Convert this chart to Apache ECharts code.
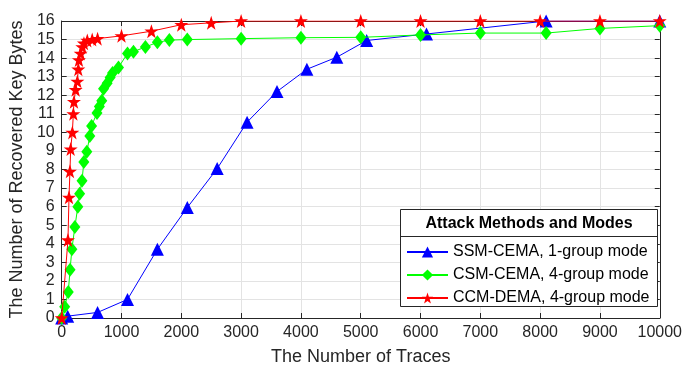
<!DOCTYPE html>
<html>
<head>
<meta charset="utf-8">
<script src="https://cdn.jsdelivr.net/npm/echarts@6/dist/echarts.min.js"></script>
<style>
  html, body { margin: 0; padding: 0; background: #fff; }
  #chart { width: 685px; height: 371px; }
</style>
</head>
<body>
<div id="chart"></div>
<script>
// traces vs recovered key bytes
const ssmX = [0, 100, 600, 1100, 1600, 2100, 2600, 3100, 3600, 4100, 4600, 5100, 6100, 8100, 10000];
const ssmY = [0, 0.1, 0.3, 1.0, 3.7, 5.95, 8.05, 10.55, 12.2, 13.4, 14.05, 14.95, 15.3, 16, 16];

const csmX = [0, 50, 110, 140, 170, 220, 270, 300, 340, 370, 420, 470, 500, 590, 630, 670, 700, 760, 810, 850, 950, 1100, 1200, 1400, 1600, 1800, 2100, 3000, 4000, 5000, 6000, 7000, 8100, 9000, 10000];
const csmY = [0, 0.6, 1.4, 2.6, 3.7, 4.9, 6.0, 6.7, 7.4, 8.4, 8.95, 9.8, 10.35, 11.05, 11.4, 11.7, 12.35, 12.65, 12.95, 13.2, 13.5, 14.25, 14.35, 14.6, 14.85, 14.97, 15.0, 15.05, 15.1, 15.12, 15.25, 15.35, 15.35, 15.6, 15.75];

const ccmX = [0, 105, 122, 138, 150, 178, 195, 205, 233, 262, 278, 288, 317, 345, 372, 428, 510, 600, 1000, 1500, 2000, 2500, 3000, 4000, 5000, 6000, 7000, 8000, 9000, 10000];
const ccmY = [0, 4.2, 6.5, 7.9, 9.1, 10.0, 11.0, 11.65, 12.3, 12.75, 13.4, 13.9, 14.25, 14.6, 14.8, 14.95, 15.0, 15.05, 15.2, 15.45, 15.8, 15.9, 16, 16, 16, 16, 16, 16, 16, 16];

const seriesNames = ["SSM-CEMA, 1-group mode", "CSM-CEMA, 4-group mode", "CCM-DEMA, 4-group mode"];
const legendTitle = "Attack Methods and Modes";

const starPath = "path://M50,0 L61.8,35.3 L98.1,35.3 L68.8,57.1 L79.4,92.7 L50,71 L20.6,92.7 L31.2,57.1 L1.9,35.3 L38.2,35.3 Z";
const axisColor = "#262626";
const font = "Liberation Sans, Arial, sans-serif";

function pairs(xs, ys) {
  return xs.map((x, i) => [x, ys[i]]);
}

const chart = echarts.init(document.getElementById("chart"));

chart.setOption({
  animation: false,
  textStyle: { fontFamily: font },
  grid: { left: 61, right: 24, top: 21, bottom: 53 },
  xAxis: [
    {
      type: "value",
      min: 0, max: 10000, interval: 1000,
      name: "The Number of Traces",
      nameLocation: "middle",
      nameGap: 30,
      nameTextStyle: { fontSize: 18, color: axisColor, fontFamily: font },
      axisLine: { show: true, lineStyle: { color: axisColor } },
      axisTick: { show: true, inside: true, length: 5, lineStyle: { color: axisColor } },
      axisLabel: {
        fontSize: 16, color: axisColor, margin: 7, fontFamily: font,
        formatter: (v) => String(v)
      },
      splitLine: { show: true, lineStyle: { color: "#e3e3e3" } }
    },
    {
      type: "value", position: "top",
      min: 0, max: 10000, interval: 1000,
      axisLine: { show: true, onZero: false, lineStyle: { color: axisColor } },
      axisTick: { show: true, inside: true, length: 5, lineStyle: { color: axisColor } },
      axisLabel: { show: false },
      splitLine: { show: false }
    }
  ],
  yAxis: [
    {
      type: "value",
      min: 0, max: 16, interval: 1,
      name: "The Number of Recovered Key Bytes",
      nameLocation: "middle",
      nameGap: 31,
      nameTextStyle: { fontSize: 18, color: axisColor, fontFamily: font },
      axisLine: { show: true, lineStyle: { color: axisColor } },
      axisTick: { show: true, inside: true, length: 5, lineStyle: { color: axisColor } },
      axisLabel: { fontSize: 16, color: axisColor, margin: 7, fontFamily: font },
      splitLine: { show: true, lineStyle: { color: "#e3e3e3" } }
    },
    {
      type: "value", position: "right",
      min: 0, max: 16, interval: 1,
      axisLine: { show: true, onZero: false, lineStyle: { color: axisColor } },
      axisTick: { show: true, inside: true, length: 5, lineStyle: { color: axisColor } },
      axisLabel: { show: false },
      splitLine: { show: false }
    }
  ],
  legend: {
    left: 406,
    top: 244,
    padding: 0,
    orient: "vertical",
    itemWidth: 41,
    itemHeight: 14,
    itemGap: 7,
    z: 20,
    textStyle: { fontSize: 16, color: "#000", fontFamily: font },
    data: seriesNames
  },
  graphic: [
    {
      type: "rect",
      shape: { x: 400.5, y: 209.5, width: 257, height: 97 },
      style: { fill: "#fff", stroke: axisColor, lineWidth: 1 },
      z: 5
    },
    {
      type: "line",
      shape: { x1: 400.5, y1: 236.5, x2: 657.5, y2: 236.5 },
      style: { stroke: axisColor, lineWidth: 1 },
      z: 6
    },
    {
      type: "text",
      x: 529, y: 224,
      style: {
        text: legendTitle,
        font: "bold 16px " + font,
        fill: "#000",
        textAlign: "center",
        textVerticalAlign: "middle"
      },
      z: 6
    }
  ],
  series: [
    {
      name: seriesNames[0],
      type: "line",
      data: pairs(ssmX, ssmY),
      symbol: "triangle",
      symbolSize: 13,
      showAllSymbol: true,
      lineStyle: { color: "#0000ff", width: 1 },
      itemStyle: { color: "#0000ff" },
      z: 2
    },
    {
      name: seriesNames[1],
      type: "line",
      data: pairs(csmX, csmY),
      symbol: "diamond",
      symbolSize: [11, 14],
      showAllSymbol: true,
      lineStyle: { color: "#00ff00", width: 1 },
      itemStyle: { color: "#00ff00" },
      z: 3
    },
    {
      name: seriesNames[2],
      type: "line",
      data: pairs(ccmX, ccmY),
      symbol: starPath,
      symbolSize: 14,
      showAllSymbol: true,
      lineStyle: { color: "#ff0000", width: 1 },
      itemStyle: { color: "#ff0000" },
      z: 4
    }
  ]
});

window.addEventListener("resize", () => {
  chart.resize();
});
</script>
</body>
</html>
